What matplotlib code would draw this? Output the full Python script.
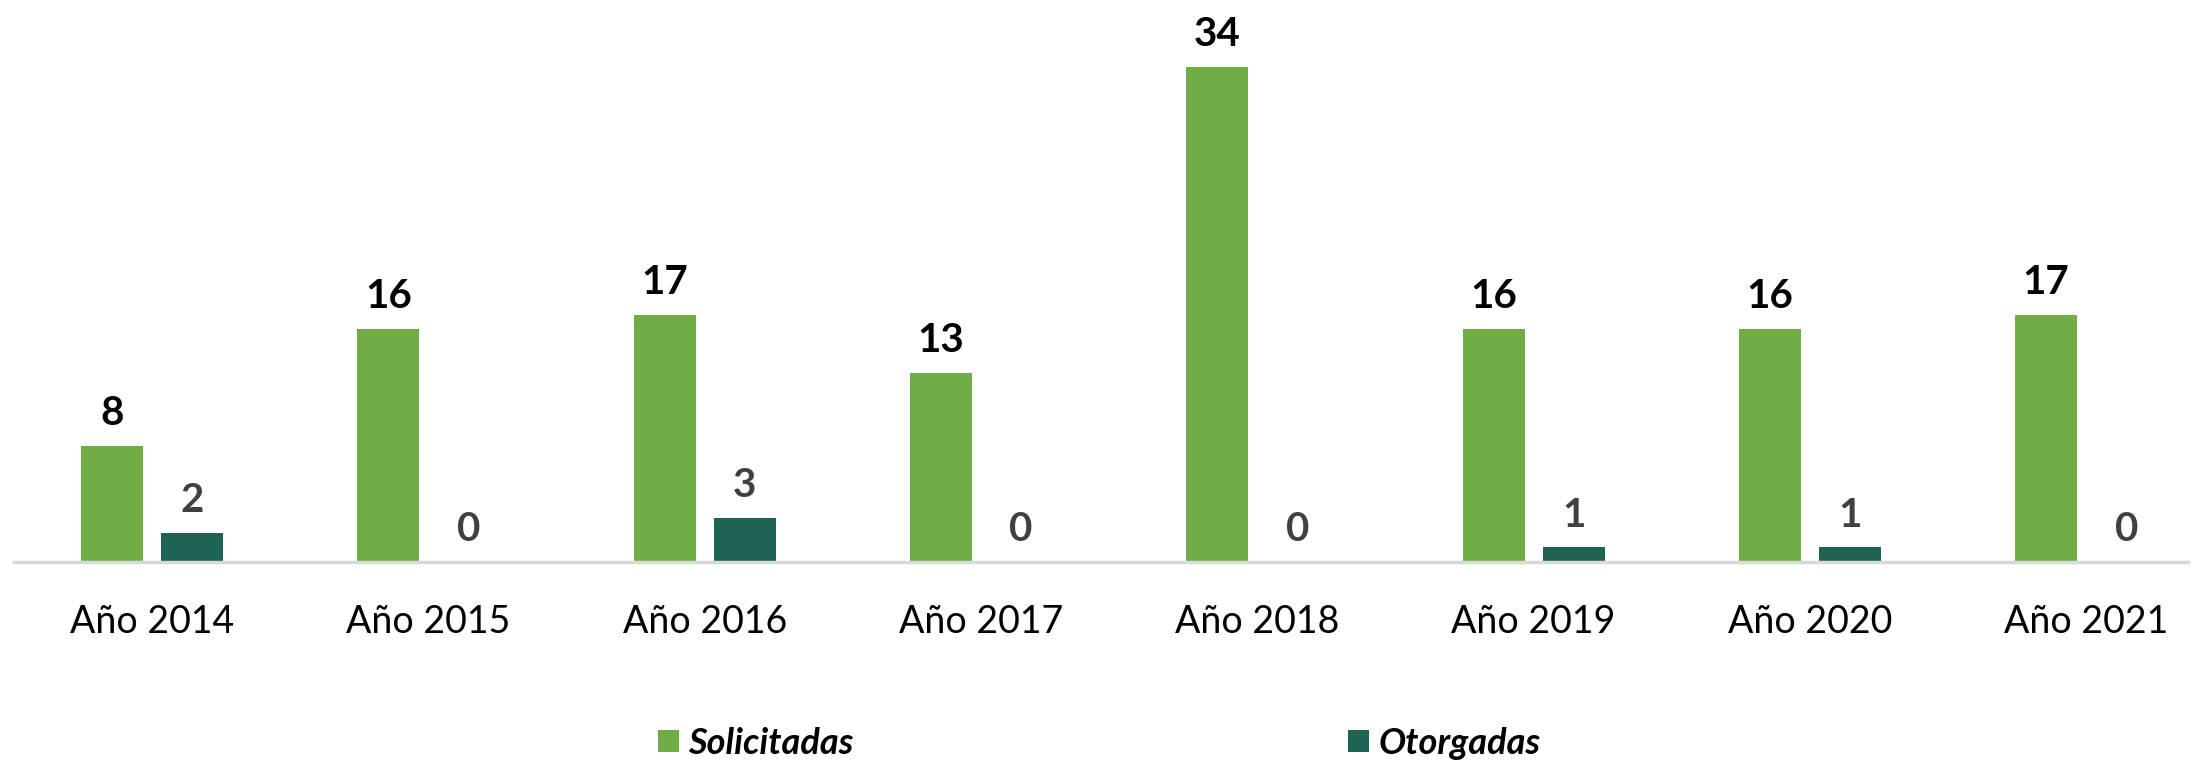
import matplotlib
matplotlib.use("Agg")
import matplotlib.pyplot as plt
import numpy as np

# data
years = ['Año 2014', 'Año 2015', 'Año 2016', 'Año 2017',
         'Año 2018', 'Año 2019', 'Año 2020', 'Año 2021']
solicitadas = [8, 16, 17, 13, 34, 16, 16, 17]
otorgadas = [2, 0, 3, 0, 0, 1, 1, 0]

green = '#70AD47'
dark = '#1F6354'

plt.rcParams['font.family'] = ['Lato', 'DejaVu Sans']

W, H = 2206, 760
fig = plt.figure(figsize=(W / 100, H / 100), dpi=100)

# axes placed in pixel terms of the reference
left_px, right_px = 14, 2188
base_px, top_px = 562, 9
ax = fig.add_axes([left_px / W, 1 - base_px / H,
                   (right_px - left_px) / W, (base_px - top_px) / H])

x = np.arange(len(years))
width = 0.225
off = 0.145

b1 = ax.bar(x - off, solicitadas, width, color=green, label='Solicitadas')
b2 = ax.bar(x + off, otorgadas, width, color=dark, label='Otorgadas')

ax.bar_label(b1, padding=10, fontsize=29, fontweight='bold', color='black')
ax.bar_label(b2, padding=10, fontsize=29, fontweight='bold', color='#404040')

ax.set_xlim(-0.5, -0.5 + (right_px - left_px) / 276.3)
ax.set_ylim(0, (base_px - top_px) / 14.55)

ax.set_xticks(x)
ax.set_xticklabels(years, fontsize=27)
ax.tick_params(axis='x', length=0, pad=30)
ax.set_yticks([])

for s in ['top', 'right', 'left']:
    ax.spines[s].set_visible(False)
ax.spines['bottom'].set_color('#D9D9D9')
ax.spines['bottom'].set_linewidth(2.5)

fig.legend(handles=[b1, b2], labels=['Solicitadas', 'Otorgadas'],
           loc='center left', bbox_to_anchor=(658 / W, 1 - 743 / H),
           ncol=2, frameon=False, borderpad=0, borderaxespad=0,
           handlelength=0.58, handleheight=0.58, handletextpad=0.25,
           columnspacing=13.7,
           prop={'size': 26, 'weight': 'bold', 'style': 'italic'})

fig.savefig('out.png', dpi=100)
